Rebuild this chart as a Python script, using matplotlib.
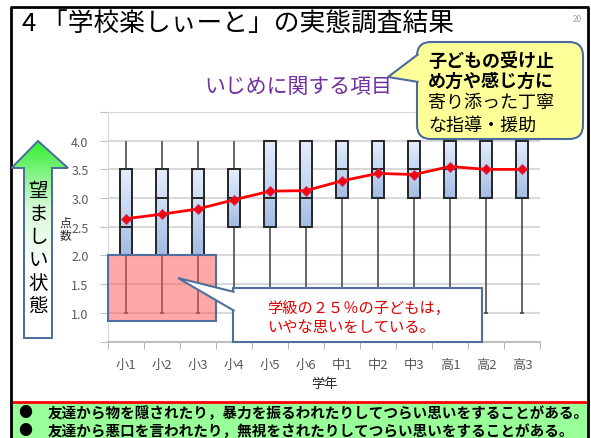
import numpy as np
import matplotlib
matplotlib.use('Agg')
import matplotlib.pyplot as plt
from matplotlib.patches import Rectangle, Polygon, FancyBboxPatch
from matplotlib.colors import LinearSegmentedColormap

plt.rcParams['font.family'] = ['Noto Sans CJK JP', 'DejaVu Sans']

# data
grades = ['小1', '小2', '小3', '小4', '小5', '小6', '中1', '中2', '中3', '高1', '高2', '高3']
whis_lo = [1.0, 1.0, 1.0, 1.0, 1.0, 1.0, 1.0, 1.0, 1.0, 1.0, 1.0, 1.0]
q1 = [2.0, 2.0, 2.0, 2.5, 2.5, 2.5, 3.0, 3.0, 3.0, 3.0, 3.0, 3.0]
med = [2.5, 3.0, 3.0, 3.0, 3.0, 3.0, 3.5, 3.5, 3.5, 3.5, 3.5, 3.5]
q3 = [3.5, 3.5, 3.5, 3.5, 4.0, 4.0, 4.0, 4.0, 4.0, 4.0, 4.0, 4.0]
whis_hi = [4.0, 4.0, 4.0, 4.0, 4.0, 4.0, 4.0, 4.0, 4.0, 4.0, 4.0, 4.0]
means = [2.64, 2.72, 2.81, 2.97, 3.12, 3.13, 3.30, 3.43, 3.41, 3.55, 3.50, 3.50]
yticks = [0.5, 1.0, 1.5, 2.0, 2.5, 3.0, 3.5, 4.0, 4.5]
ylabels = ['', '1.0', '1.5', '2.0', '2.5', '3.0', '3.5', '4.0', '']
highlight_y = [0.85, 2.0]  # pink band, first 3 grades

W, H = 591, 439
fig = plt.figure(figsize=(W / 100, H / 100), dpi=100)

def px(x0, y0, x1, y1):
    return [x0 / W, 1 - y1 / H, (x1 - x0) / W, (y1 - y0) / H]

ax = fig.add_axes(px(108, 113, 540, 342.5))
x = np.arange(len(grades))
bw = 0.36

box_cmap = LinearSegmentedColormap.from_list('bx', ['#a3bbe3', '#c5d7f2', '#e4edfb'])
grad = np.linspace(0, 1, 64).reshape(-1, 1)
for i in range(len(grades)):
    ax.vlines(x[i], whis_lo[i], q1[i], color='#404040', lw=1.1, zorder=2)
    ax.vlines(x[i], q3[i], whis_hi[i], color='#404040', lw=1.1, zorder=2)
    ax.hlines(whis_lo[i], x[i] - 0.05, x[i] + 0.05, color='#404040', lw=1.1, zorder=2)
    ax.imshow(grad, cmap=box_cmap, origin='lower', aspect='auto',
              extent=(x[i] - bw / 2, x[i] + bw / 2, q1[i], q3[i]), zorder=3)
    ax.add_patch(Rectangle((x[i] - bw / 2, q1[i]), bw, q3[i] - q1[i], fill=False,
                           ec='#262626', lw=1.4, zorder=4))
    ax.hlines(med[i], x[i] - bw / 2, x[i] + bw / 2, color='#262626', lw=1.4, zorder=4)

ax.plot(x, means, color='#ff0000', lw=2, marker='D', ms=5.5, mfc='#ff0000',
        mec='#c03070', mew=0.6, zorder=6)

ax.add_patch(Rectangle((-0.5, highlight_y[0]), 3, highlight_y[1] - highlight_y[0],
                       fc=(1, 0.32, 0.32, 0.5), ec='#4f6f9f', lw=1.5, zorder=7, clip_on=False))

ax.set_xlim(-0.5, len(grades) - 0.5)
ax.set_ylim(0.5, 4.5)
ax.set_yticks(yticks)
ax.set_yticklabels(ylabels)
ax.set_xticks(x)
ax.set_xticklabels(grades)
ax.set_xticks(np.arange(-0.5, len(grades), 1), minor=True)
ax.tick_params(axis='x', which='major', length=0, pad=12, labelsize=9.5, labelcolor='#595959')
ax.tick_params(axis='x', which='minor', length=5, color='#a6a6a6')
ax.tick_params(axis='y', length=6, color='#bfbfbf', pad=8, labelsize=9, labelcolor='#595959')
ax.grid(axis='y', color='#d9d9d9', lw=1.5)
ax.set_axisbelow(True)
for s in ['top', 'right']:
    ax.spines[s].set_visible(False)
ax.spines['left'].set_color('#d9d9d9')
ax.spines['bottom'].set_color('#bfbfbf')
ax.spines['bottom'].set_linewidth(1.5)
ax.set_xlabel('学年', fontsize=9.5, color='#262626', labelpad=4)

# overlay in pixel coords for the slide decorations
ov = fig.add_axes([0, 0, 1, 1], zorder=10)
ov.set_xlim(0, W)
ov.set_ylim(H, 0)
ov.axis('off')
ov.patch.set_alpha(0)

# slide frame and bottom green box
ov.add_patch(Rectangle((12, 404), 576, 36, fc='#99ff99', ec='none'))
ov.plot([11, 588], [403, 403], color='#ff0000', lw=2)
ov.plot([11, 11, 588, 588], [439, 8, 8, 439], color='black', lw=2)

ov.text(22, 25, '4 「学校楽しぃーと」の実態調査結果', fontsize=18.5, va='center', ha='left')
ov.text(577, 19, '20', fontsize=6, color='#a0a0a0', ha='center', va='center')
ov.text(298, 87, 'いじめに関する項目', fontsize=15, color='#7030a0', ha='center', va='center')

# green arrow
arrow_pts = [(38, 142), (68, 169), (52, 169), (52, 339), (24, 339), (24, 169), (11.5, 169)]
arrow = Polygon(arrow_pts, closed=True, fc='none', ec='#4a6b9c', lw=1.4, zorder=3)
green = LinearSegmentedColormap.from_list('gr', ['#ffffff', '#ffffff', '#d8f8d8', '#33ee33'])
g = np.linspace(0, 1, 128).reshape(-1, 1)
im = ov.imshow(g, cmap=green, origin='lower', aspect='auto', extent=(11, 69, 339, 142), zorder=2)
ov.add_patch(arrow)
im.set_clip_path(arrow)
for k, ch in enumerate('望ましい状態'):
    ov.text(38, 192 + 23 * k, ch, fontsize=14, ha='center', va='center', zorder=4)
ov.text(65, 223, '点', fontsize=8.5, ha='center', va='center', color='#262626')
ov.text(65, 236, '数', fontsize=8.5, ha='center', va='center', color='#262626')

# yellow speech bubble
ov.add_patch(FancyBboxPatch((417, 43), 166, 97, boxstyle='round,pad=0,rounding_size=14',
                            fc='#ffff99', ec='#4a6b9c', lw=1.5, zorder=5))
ov.add_patch(Polygon([(418.5, 55), (388, 78), (418.5, 83)], closed=False,
                     fc='#ffff99', ec='#4a6b9c', lw=1.5, zorder=6))
bubble_lines = ['子どもの受け止', 'め方や感じ方に', '寄り添った丁寧', 'な指導・援助']
bubble_y = [61, 81, 103, 126]
for k, t in enumerate(bubble_lines):
    ov.text(428, bubble_y[k], t, fontsize=13 if k < 2 else 13,
            fontweight='bold' if k < 2 else 'normal', ha='left', va='center', zorder=7)

# white callout
ov.add_patch(Rectangle((233, 289), 249, 54, fc='white', ec='#4f6f9f', lw=1.5, zorder=5))
ov.add_patch(Polygon([(234.5, 293), (178, 279), (234.5, 312)], closed=False,
                     fc='white', ec='#4f6f9f', lw=1.5, zorder=6))
ov.text(267, 309, '学級の２５％の子どもは，', fontsize=11, color='#e00000', ha='left', va='center', zorder=7)
ov.text(267, 328, 'いやな思いをしている。', fontsize=11, color='#e00000', ha='left', va='center', zorder=7)

bullets = ['友達から物を隠されたり，暴力を振るわれたりしてつらい思いをすることがある。',
           '友達から悪口を言われたり，無視をされたりしてつらい思いをすることがある。']
for k, t in enumerate(bullets):
    yy = 413 + 18 * k
    ov.text(25, yy, '●', fontsize=10, ha='center', va='center')
    ov.text(48, yy, t, fontsize=10.5, fontweight='bold', ha='left', va='center')

fig.savefig('out.png', dpi=100)
